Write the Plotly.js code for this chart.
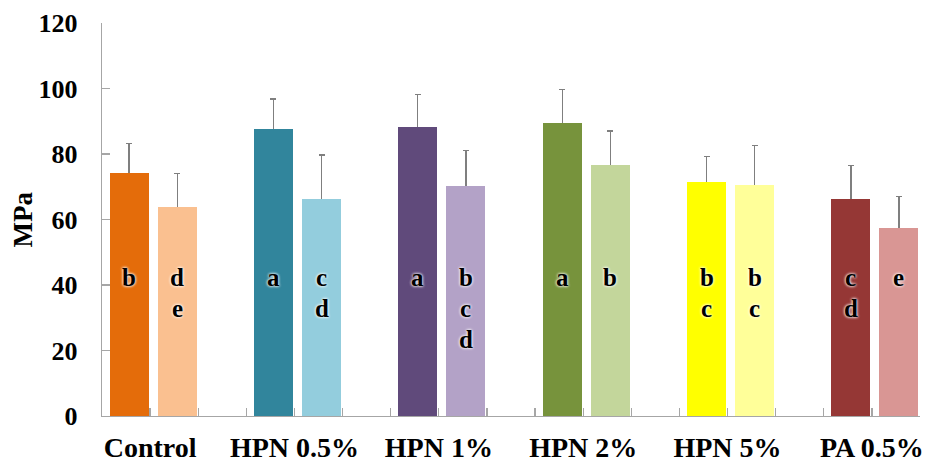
<!DOCTYPE html>
<html>
<head>
<meta charset="utf-8">
<script src="https://cdn.plot.ly/plotly-3.0.1.min.js"></script>
<style>html,body{margin:0;padding:0;background:#fff;}#chart{width:930px;height:464px;}</style>
</head>
<body>
<div id="chart"></div>
<script>
// ---- data ----
var groups = ['Control', 'HPN 0.5%', 'HPN 1%', 'HPN 2%', 'HPN 5%', 'PA 0.5%'];
var darkValues  = [74.3, 87.7, 88.1, 89.5, 71.3, 66.4];
var darkErrors  = [9.0, 9.1, 10.0, 10.1, 8.0, 10.1];
var lightValues = [63.9, 66.4, 70.2, 76.7, 70.6, 57.5];
var lightErrors = [10.1, 13.3, 10.8, 10.3, 12.1, 9.5];
var darkLetters  = [['b'], ['a'], ['a'], ['a'], ['b','c'], ['c','d']];
var lightLetters = [['d','e'], ['c','d'], ['b','c','d'], ['b'], ['b','c'], ['e']];
var darkColors  = ['#E46C0A', '#31859C', '#604A7B', '#77933C', '#FFFF00', '#953735'];
var lightColors = ['#FAC090', '#93CDDD', '#B3A2C7', '#C3D69B', '#FFFF99', '#D99694'];
var yTicks = [0, 20, 40, 60, 80, 100, 120];
var yTitle = 'MPa';

// ---- layout constants ----
var slotsPerGroup = 3;
var barOffset = -0.342, barWidth = 0.81;
var nSlots = groups.length * slotsPerGroup - 1;
var FONT = '"Liberation Serif", "Times New Roman", serif';

var darkX = groups.map(function(_, g){ return g * slotsPerGroup; });
var lightX = groups.map(function(_, g){ return g * slotsPerGroup + 1; });

// error bars: drawn symmetric on an invisible trace, then covered by the visible bars
function errTrace(xs, ys, errs){
  return {
    type: 'bar', x: xs, y: ys, width: barWidth, offset: barOffset,
    marker: {color: 'rgba(0,0,0,0)', line: {width: 0}},
    error_y: {type: 'data', array: errs, symmetric: true,
              color: '#7f7f7f', thickness: 1.3, width: 3},
    hoverinfo: 'skip', showlegend: false
  };
}
function barTrace(xs, ys, colors){
  return {
    type: 'bar', x: xs, y: ys, width: barWidth, offset: barOffset,
    marker: {color: colors, line: {width: 0}},
    hoverinfo: 'skip', showlegend: false
  };
}

// tick marks at every slot boundary; labels only at group centres
var tickvals = [], ticktext = [];
for (var k = -1; k < nSlots; k++) {
  tickvals.push(k + 0.5);
  var g = (k % slotsPerGroup === 0 && k >= 0) ? k / slotsPerGroup : -1;
  ticktext.push(g >= 0 ? groups[g] : '');
}

var annotations = [];
var centerShift = barOffset + barWidth / 2;
function addLetters(xs, letters){
  xs.forEach(function(x, i){
    letters[i].forEach(function(ch, j){
      annotations.push({
        x: x + centerShift, y: 40, xref: 'x', yref: 'y',
        text: ch, showarrow: false, xanchor: 'center', yanchor: 'middle',
        yshift: 8 - 31 * j,
        font: {family: FONT, size: 25, color: '#000', weight: 'bold',
               shadow: '0 0 3px #fff, 0 0 3px #fff'}
      });
    });
  });
}
addLetters(darkX, darkLetters);
addLetters(lightX, lightLetters);

annotations.push({
  x: 0, y: 0.5, xref: 'paper', yref: 'paper', xanchor: 'center', yanchor: 'middle',
  xshift: -80, textangle: -90, showarrow: false, text: yTitle,
  font: {family: FONT, size: 27, weight: 'bold', color: '#000'}
});

var layout = {
  width: 930, height: 464,
  margin: {l: 102, r: 10, t: 23, b: 48, pad: 0},
  paper_bgcolor: '#fff', plot_bgcolor: '#fff',
  bargap: 0, barmode: 'overlay',
  font: {family: FONT, color: '#000'},
  xaxis: {
    range: [-0.5, nSlots - 0.5], tickmode: 'array', tickvals: tickvals, ticktext: ticktext,
    ticks: 'inside', ticklen: 8, tickwidth: 1.3, tickcolor: '#a6a6a6',
    showline: true, linecolor: '#a6a6a6', linewidth: 1.3, showgrid: false, zeroline: false,
    tickfont: {family: FONT, size: 28, weight: 'bold', color: '#000'},
    ticklabelstandoff: 6, fixedrange: true
  },
  yaxis: {
    range: [0, 120], tickmode: 'array', tickvals: yTicks,
    ticks: 'inside', ticklen: 8, tickwidth: 1.3, tickcolor: '#a6a6a6',
    showline: true, linecolor: '#a6a6a6', linewidth: 1.3, showgrid: false, zeroline: false,
    tickfont: {family: FONT, size: 26, weight: 'bold', color: '#000'},
    ticklabelstandoff: 18, fixedrange: true
  },
  annotations: annotations
};

Plotly.newPlot('chart', [errTrace(darkX, darkValues, darkErrors),
                         errTrace(lightX, lightValues, lightErrors),
                         barTrace(darkX, darkValues, darkColors),
                         barTrace(lightX, lightValues, lightColors)],
               layout, {displayModeBar: false, staticPlot: true});
</script>
</body>
</html>
